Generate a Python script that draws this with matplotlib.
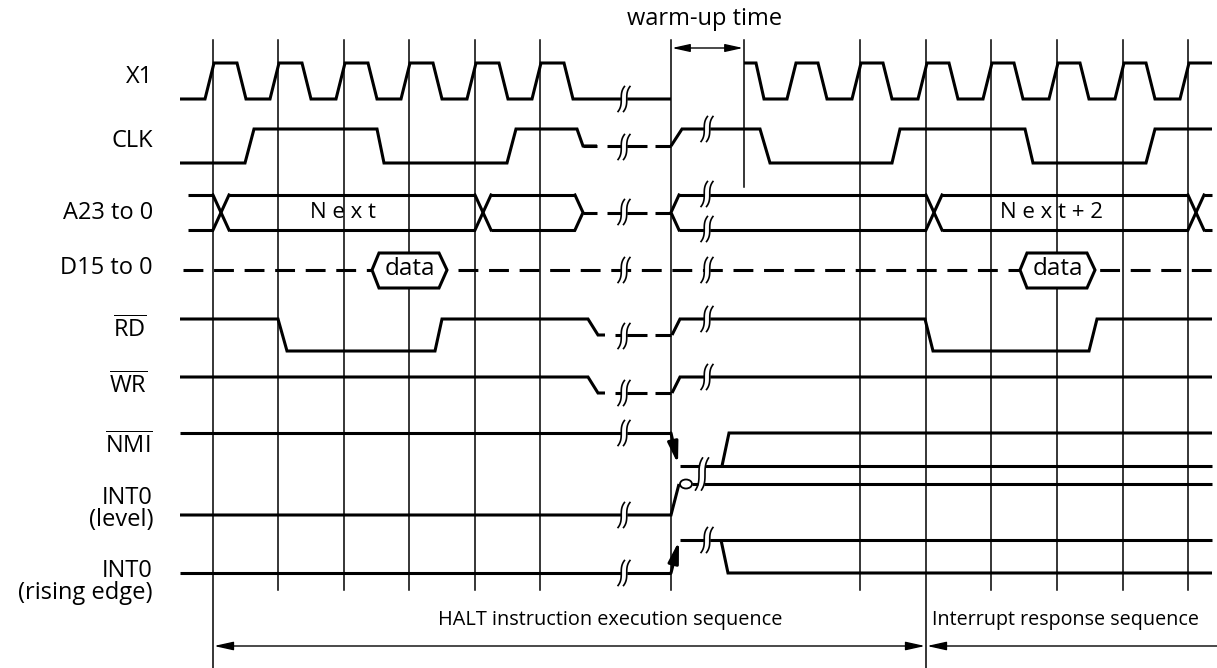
import numpy as np
import matplotlib
matplotlib.use("Agg")
import matplotlib.pyplot as plt
from matplotlib.patches import Polygon, Ellipse

FONT = "Open Sans"
plt.rcParams['font.family'] = [FONT, 'DejaVu Sans']
plt.rcParams['mathtext.fontset'] = 'custom'
plt.rcParams['mathtext.rm'] = FONT

# ---------------- data (time axis in diagram units, level 1=high 0=low .5=mid)
SIGNAL_LABELS = ["X1", "CLK", "A23 to 0", "D15 to 0", r"$\overline{\mathrm{RD}}$",
                 r"$\overline{\mathrm{WR}}$", r"$\overline{\mathrm{NMI}}$",
                 "INT0\n(level)", "INT0\n(rising edge)"]
LABEL_Y = [77, 141, 213, 268, 330, 386, 446, 509, 582]
LABEL_X = [153, 153, 153, 153, 147, 147, 153, 153, 153]
LANE_HIGH = [63, 129, 195, 270, 319, 377, 433, 484, 540]
LANE_LOW = [99, 163, 230, 270, 351, 409, 466, 515, 573]

GRID_T = [213, 278, 344, 409, 475, 540, 671, 744, 860, 926, 991, 1057, 1123, 1188]
GRID_BOTTOM = [668, 590, 590, 590, 590, 590, 590, 187, 590, 668, 590, 590, 590, 590]
GRID_TOP = 40

X1_A_T = [180, 205, 214, 237, 246, 270, 279, 302, 311, 336, 345, 368, 377, 401, 410,
          433, 442, 467, 476, 499, 508, 532, 541, 564, 573, 671]
X1_A_L = [0, 0, 1, 1, 0, 0, 1, 1, 0, 0, 1, 1, 0, 0, 1, 1, 0, 0, 1, 1, 0, 0, 1, 1, 0, 0]
X1_B_T = [744, 756, 764, 787, 796, 818, 827, 852, 861, 883, 892, 918, 927, 949, 958,
          983, 992, 1014, 1023, 1049, 1058, 1080, 1089, 1115, 1124, 1146, 1155, 1180, 1189, 1212]
X1_B_L = [1, 1, 0, 0, 1, 1, 0, 0, 1, 1, 0, 0, 1, 1, 0, 0, 1, 1, 0, 0, 1, 1, 0, 0, 1, 1, 0, 0, 1, 1]

CLK_A_T = [180, 245, 254, 377, 384, 507, 516, 577, 583, 597]
CLK_A_L = [0, 0, 1, 1, 0, 0, 1, 1, .5, .5]
CLK_B_T = [671, 682, 760, 770, 892, 900, 1025, 1033, 1146, 1155, 1212]
CLK_B_L = [.5, 1, 1, 0, 0, 1, 1, 0, 0, 1, 1]

RD_A_T = [180, 278, 287, 435, 442, 588, 598, 605]
RD_A_L = [1, 1, 0, 0, 1, 1, .5, .5]
RD_B_T = [672, 680, 925, 933, 1089, 1097, 1212]
RD_B_L = [.5, 1, 1, 0, 0, 1, 1]

WR_A_T = [180, 588, 598, 605]
WR_A_L = [1, 1, .5, .5]
WR_B_T = [672, 680, 1212]
WR_B_L = [.5, 1, 1]

# floating (dashed) segments during the halt
FLOAT_SEG = [(615, 647), (655, 671)]
BUS_FLOAT_SEG = [(583, 597), (607, 647), (655, 671)]

# address bus
BUS_A = dict(start=188, end=575, crosses=[213, 475])
BUS_B = dict(start=671, end=1212, crosses=[926, 1188])
BUS_TEXT = [("N e x t", 343), ("N e x t + 2", 1052)]

# data bus valid windows
DATA_WIN = [(372, 447), (1020, 1095)]

# interrupt lines after the break
NMI_B_T = [722, 729, 1212]
NMI_B_L = [0, 1, 1]

# break markers (t, y)
BREAKS = [(624, 99), (624, 147), (624, 212), (624, 270), (624, 336), (624, 393),
          (624, 433), (624, 515), (624, 573),
          (707, 129), (707, 194), (707, 229), (707, 270), (707, 319), (707, 377),
          (707, 540)]

# ---------------- drawing
LW = 2.2
GLW = 1.1
LABEL_FS = 17
fig = plt.figure(figsize=(12.17, 6.68), dpi=100)
ax = fig.add_axes([0, 0, 1, 1])
ax.set_xlim(0, 1217)
ax.set_ylim(668, 0)
ax.axis('off')


def lev(i, L):
    return [LANE_LOW[i] + (LANE_HIGH[i] - LANE_LOW[i]) * l for l in L]


def wave(i, T, L, **kw):
    ax.plot(T, lev(i, L), color='black', lw=LW, solid_joinstyle='miter',
            solid_capstyle='butt', zorder=3, **kw)


def squiggle(xc, yc, h=25, a=3.2, gap=5.5, lw=1.2):
    s = np.linspace(-1, 1, 50)
    y = yc + s * h / 2
    xa = xc - gap / 2 - a * s ** 3
    xb = xc + gap / 2 - a * s ** 3
    ax.fill_betweenx(y, xa, xb, color='white', zorder=6, lw=0)
    ax.plot(xa, y, color='black', lw=lw, zorder=7)
    ax.plot(xb, y, color='black', lw=lw, zorder=7)


# grid
for t, yb in zip(GRID_T, GRID_BOTTOM):
    ax.plot([t, t], [GRID_TOP, yb], color='black', lw=GLW, zorder=1)

# labels
for lab, x, y in zip(SIGNAL_LABELS, LABEL_X, LABEL_Y):
    ax.text(x, y, lab, ha='right', va='center', fontsize=LABEL_FS,
            multialignment='right', linespacing=0.87)

# X1, CLK, RD, WR
wave(0, X1_A_T, X1_A_L)
wave(0, X1_B_T, X1_B_L)
wave(1, CLK_A_T, CLK_A_L)
wave(1, CLK_B_T, CLK_B_L)
wave(4, RD_A_T, RD_A_L)
wave(4, RD_B_T, RD_B_L)
wave(5, WR_A_T, WR_A_L)
wave(5, WR_B_T, WR_B_L)
for i in (4, 5):
    for a, b in FLOAT_SEG:
        wave(i, [a, b], [.5, .5])
for a, b in BUS_FLOAT_SEG:
    wave(1, [a, b], [.5, .5])
    wave(2, [a, b], [.5, .5])


# address bus
def bus(i, start, end, crosses, open_start, close_end, w=16, c=8):
    top, bot = LANE_HIGH[i], LANE_LOW[i]
    mid = (top + bot) / 2
    edges = list(crosses)
    pts = [start] + edges + [end]
    for k in range(len(pts) - 1):
        a = pts[k]
        b = pts[k + 1]
        a0 = a + (w if k > 0 else (c if open_start else 0))
        b0 = b if k < len(pts) - 2 else (b - c if close_end else b)
        ax.plot([a0, b0], [top, top], color='black', lw=LW, zorder=3, solid_capstyle='butt')
        ax.plot([a0, b0], [bot, bot], color='black', lw=LW, zorder=3, solid_capstyle='butt')
    for e in edges:
        ax.plot([e, e + w], [top, bot], color='black', lw=LW, zorder=3)
        ax.plot([e, e + w], [bot, top], color='black', lw=LW, zorder=3)
    if open_start:
        ax.plot([start + c, start, start + c], [top, mid, bot], color='black', lw=LW,
                zorder=3, solid_joinstyle='miter')
    if close_end:
        ax.plot([end - c, end, end - c], [top, mid, bot], color='black', lw=LW,
                zorder=3, solid_joinstyle='miter')


bus(2, BUS_A['start'], BUS_A['end'] + 8, BUS_A['crosses'], False, True)
bus(2, BUS_B['start'], BUS_B['end'], BUS_B['crosses'], True, False)
for txt, t in BUS_TEXT:
    ax.text(t, 212, txt, ha='center', va='center', fontsize=16, zorder=4)

# data bus
ax.plot([183, 1215], [270, 270], color='black', lw=LW, dashes=(6.5, 3.5), zorder=2)
for a, b in DATA_WIN:
    y0, y1, ym = 253, 288, 270
    hexa = Polygon([[a, ym], [a + 7, y0], [b - 8, y0], [b, ym], [b - 8, y1], [a + 7, y1]],
                   closed=True, facecolor='white', edgecolor='black', lw=LW, zorder=4,
                   joinstyle='miter')
    ax.add_patch(hexa)
    ax.text((a + b) / 2, ym - 1, 'data', ha='center', va='center', fontsize=17.5, zorder=5)

# NMI
wave(6, [180, 671], [1, 1])
ax.annotate('', xy=(678, 464), xytext=(671, 433),
            arrowprops=dict(arrowstyle='-|>,head_length=0.9,head_width=0.22',
                            color='black', lw=LW, mutation_scale=14, shrinkA=0, shrinkB=0),
            zorder=4)
wave(6, [680, 1212], [0, 0])
wave(6, NMI_B_T, NMI_B_L)

# INT0 level
wave(7, [180, 671, 679], [0, 0, 1])
ax.add_patch(Ellipse((686, 484), 12, 9, facecolor='none', edgecolor='black', lw=1.3, zorder=5))
wave(7, [692, 1212], [1, 1])
squiggle(702, 474, h=32, a=3.5, gap=6)

# INT0 rising edge
wave(8, [180, 671], [0, 0])
ax.annotate('', xy=(679, 541), xytext=(671, 573),
            arrowprops=dict(arrowstyle='-|>,head_length=0.9,head_width=0.22',
                            color='black', lw=LW, mutation_scale=14, shrinkA=0, shrinkB=0),
            zorder=4)
wave(8, [680, 1212], [1, 1])
wave(8, [721, 728, 1212], [1, 0, 0])

for x, y in BREAKS:
    squiggle(x, y)

# warm-up annotation
ax.text(705, 19, 'warm-up time', ha='center', va='center', fontsize=17)
ax.annotate('', xy=(672, 48), xytext=(743, 48),
            arrowprops=dict(arrowstyle='<|-|>,head_length=0.9,head_width=0.2',
                            color='black', lw=1.0, mutation_scale=12, shrinkA=0, shrinkB=0))

# sequence arrows
ax.annotate('', xy=(214, 646), xytext=(925, 646),
            arrowprops=dict(arrowstyle='<|-|>,head_length=0.9,head_width=0.2',
                            color='black', lw=1.0, mutation_scale=13, shrinkA=0, shrinkB=0))
ax.annotate('', xy=(927, 646), xytext=(1217, 646),
            arrowprops=dict(arrowstyle='-|>,head_length=0.9,head_width=0.2',
                            color='black', lw=1.0, mutation_scale=13, shrinkA=0, shrinkB=0))
ax.text(610, 620, 'HALT instruction execution sequence', ha='center', va='center', fontsize=14.3)
ax.text(1066, 620, 'Interrupt response sequence', ha='center', va='center', fontsize=14.2)

fig.savefig('out.png', dpi=100)
